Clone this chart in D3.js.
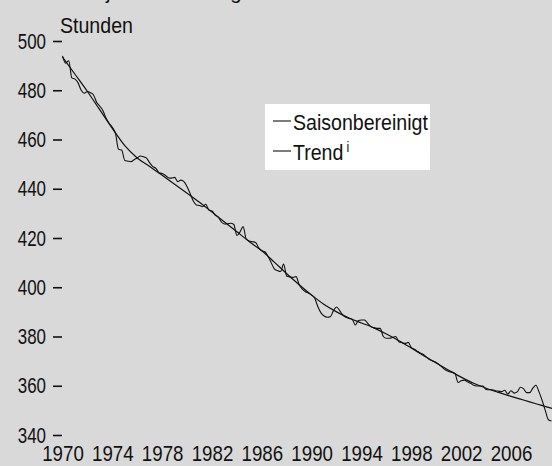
<!DOCTYPE html>
<html>
<head>
<meta charset="utf-8">
<script src="https://cdn.jsdelivr.net/npm/d3@7"></script>
<style>
  html, body { margin: 0; padding: 0; background: #d9d9d9; overflow: hidden; }
  svg { display: block; }
  text { font-family: "Liberation Sans", Arial, sans-serif; fill: #111; }
</style>
</head>
<body>
<svg width="552" height="466"></svg>
<script>
// quarterly, seasonally adjusted hours, starting 1970 Q1
const saisonStart = 1970;
const saisonValues = [
  494, 491, 492, 485, 484.5, 483, 480, 478.8,
  479.5, 479, 478, 475, 473.5, 471.7, 468.6, 466.5,
  465, 462.5, 456, 455.7, 451.5, 451.2, 451, 451.8,
  452.5, 453.3, 453, 452.4, 450.5, 449, 448.3, 446.5,
  446.2, 445.5, 444.5, 444.3, 444.6, 442.9, 443.5, 442.9,
  440.8, 438, 435, 433.4, 433.2, 432.7, 433.7, 431.4,
  431, 429.3, 428.5, 426.5, 425.7, 425.8, 426, 425.5,
  421, 422.5, 424.6, 419.5, 418.8, 418.5, 418.2, 416,
  414.8, 414.4, 412.5, 410, 407.5, 406.8, 406.4, 409.4,
  404.5, 404.2, 404, 404.3, 401, 399.2, 398.2, 397.6,
  396.8, 395.5, 392.1, 389.6, 388.3, 387.8, 388, 390.5,
  392, 390.5, 388.7, 387.8, 387.3, 387, 384.7, 386.5,
  386.7, 386.7, 385.3, 384, 383.5, 383.3, 383.3, 380,
  379.3, 379.3, 379.6, 380, 377.9, 377.5, 377.2, 377.6,
  375.5, 374.8, 374, 373.2, 372.6, 371.5, 370.5, 370,
  369.5, 368.5, 367.4, 366.4, 365.8, 365.5, 365, 361.3,
  362, 362.3, 361.6, 361, 360.2, 359.9, 359.9, 359.9,
  358.5, 358.4, 358.4, 358, 357.8, 357.6, 358.2, 356.6,
  358, 357, 357.5, 359.4, 358.8, 357.2, 357.2, 359,
  360.2, 357.5, 354, 350, 346.2, 345.7
];

// trend, yearly
const trendYears = [
  1970, 1971, 1972, 1973, 1974, 1975, 1976, 1977, 1978, 1979,
  1980, 1981, 1982, 1983, 1984, 1985, 1986, 1987, 1988, 1989,
  1990, 1991, 1992, 1993, 1994, 1995, 1996, 1997, 1998, 1999,
  2000, 2001, 2002, 2003, 2004, 2005, 2006, 2007, 2008, 2009, 2009.5
];
const trendValues = [
  493.5, 486.5, 479.5, 472, 464.5, 457.5, 452.5, 449, 445.5, 441.8,
  438.2, 434.5, 430.5, 426.5, 422.5, 418.5, 414.8, 410.2, 405.5, 401,
  396.8, 393, 390, 387.5, 385.5, 383.5, 381, 378.3, 375.3, 372.2,
  369.2, 366.3, 363.5, 361, 359, 357.3, 355.7, 354.2, 352.7, 351.2, 350.5
];

const yTicks = [340, 360, 380, 400, 420, 440, 460, 480, 500];
const xTicks = [1970, 1974, 1978, 1982, 1986, 1990, 1994, 1998, 2002, 2006];
const legendLabels = ["Saisonbereinigt", "Trend"];
const titleText = "Arbeitszeit je Erwerbstätigen";
const unitText = "Stunden";

const svg = d3.select("svg");

const x = d3.scaleLinear().domain([1970, 2006]).range([62.5, 511]);
const y = d3.scaleLinear().domain([340, 500]).range([435, 41]);

const saison = saisonValues.map((v, i) => [saisonStart + i / 4, v]);
const trend = trendYears.map((t, i) => [t, trendValues[i]]);

// the font in the picture is narrow, so squeeze texts sideways
function squeeze(sel, sx) {
    sel.each(function () {
        const t = d3.select(this);
        const x0 = +t.attr("x") || 0;
        t.attr("x", x0 / sx).attr("transform", `scale(${sx},1)`);
    });
}

// title, cut off above the plot (only descenders show)
const title = svg.append("text")
    .attr("y", -1)
    .attr("font-size", 20.5)
    .text(titleText);
const jAt = title.node().getSubStringLength(0, titleText.indexOf("j"));
title.attr("x", 106 - jAt);

const unit = svg.append("text")
    .attr("x", 60)
    .attr("y", 33)
    .attr("font-size", 22)
    .text(unitText);
squeeze(unit, 0.89);

// y axis: ticks and labels, no domain line
const yAxis = svg.append("g")
    .attr("transform", "translate(62,0)")
    .call(d3.axisLeft(y).tickValues(yTicks).tickSize(9).tickPadding(7));
yAxis.select(".domain").remove();
yAxis.selectAll(".tick line").attr("stroke", "#111").attr("stroke-width", 1.6);
yAxis.selectAll(".tick text")
    .attr("font-size", 22)
    .attr("font-family", null)
    .attr("fill", "#111")
    .call(squeeze, 0.77);

// x axis: labels only
const xAxis = svg.append("g")
    .attr("transform", "translate(0,446)")
    .call(d3.axisBottom(x).tickValues(xTicks).tickFormat(d3.format("d")).tickSize(0).tickPadding(0));
xAxis.select(".domain").remove();
xAxis.selectAll(".tick text")
    .attr("font-size", 22)
    .attr("font-family", null)
    .attr("fill", "#111")
    .attr("dy", "0.7em")
    .call(squeeze, 0.85);

const line = d3.line()
    .x(d => x(d[0]))
    .y(d => y(d[1]))
    .curve(d3.curveMonotoneX);

svg.append("path")
    .datum(trend)
    .attr("fill", "none")
    .attr("stroke", "#111")
    .attr("stroke-width", 1.2)
    .attr("d", line);

svg.append("path")
    .datum(saison)
    .attr("fill", "none")
    .attr("stroke", "#111")
    .attr("stroke-width", 1.1)
    .attr("d", line);

// legend
const legend = svg.append("g").attr("transform", "translate(265,104)");
legend.append("rect")
    .attr("width", 165)
    .attr("height", 66)
    .attr("fill", "#fff");

legendLabels.forEach((label, i) => {
    const row = legend.append("g").attr("transform", `translate(0,${17 + i * 30})`);
    row.append("line")
        .attr("x1", 8).attr("x2", 26)
        .attr("stroke", "#111").attr("stroke-width", 1.1);
    const t = row.append("text")
        .attr("x", 28)
        .attr("y", 9)
        .attr("font-size", 22)
        .text(label);
    squeeze(t, 0.89);
    if (label === "Trend") {
        const w = t.node().getComputedTextLength() * 0.89;
        const sup = row.append("text")
            .attr("x", 28 + w + 3)
            .attr("y", 1)
            .attr("font-size", 14)
            .text("i");
        squeeze(sup, 0.89);
    }
});
</script>
</body>
</html>
